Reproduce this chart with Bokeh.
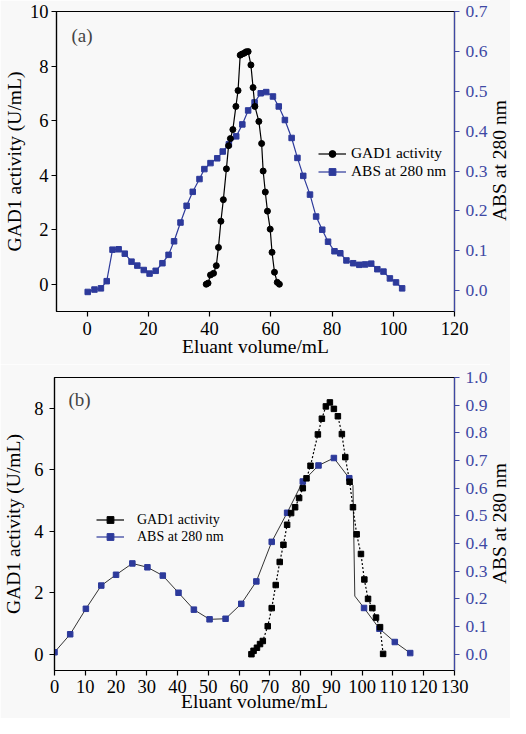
from bokeh.plotting import figure
from bokeh.layouts import column, row
from bokeh.models import (Range1d, LinearAxis, FixedTicker, Legend, LegendItem,
                          Label, PrintfTickFormatter, Div, Spacer)
from bokeh.embed import file_html
from bokeh.resources import INLINE

# ---------------- data: panel (a) ----------------
gad_a_x = [38.9, 39.5, 40.3, 41.3, 42.2, 42.9, 43.7, 44.5, 45.5, 46.2, 46.8, 47.6,
           48.6, 49.3, 50.0, 50.6, 51.3, 51.9, 52.6, 53.5, 54.2, 54.8, 56.1, 57.0,
           57.5, 58.2, 58.9, 59.8, 60.4, 61.2, 62.1, 62.8]
gad_a_y = [0.0, 0.04, 0.34, 0.40, 0.68, 1.35, 2.31, 3.10, 4.23, 5.08, 5.34, 5.67,
           6.52, 7.10, 8.40, 8.44, 8.47, 8.52, 8.53, 8.04, 7.21, 6.52, 5.97, 5.16,
           4.15, 3.38, 2.68, 2.02, 1.17, 0.44, 0.07, 0.0]
abs_a_x = [0.2, 2.4, 4.5, 6.4, 8.3, 10.3, 12.3, 14.5, 16.4, 18.5,
           20.4, 22.4, 24.6, 26.6, 28.4, 30.5, 32.5, 34.5, 36.7, 38.3,
           40.3, 42.5, 44.3, 46.3, 48.7, 50.7, 52.6, 54.7, 56.7, 58.5,
           60.7, 62.6, 64.6, 66.8, 68.7, 70.6, 72.8, 74.8, 76.8, 78.7,
           80.8, 82.7, 84.7, 86.9, 88.9, 90.8, 92.8, 94.8, 96.8, 98.9,
           100.9, 102.9]
abs_a_y = [-0.003, 0.003, 0.006, 0.024, 0.103, 0.104, 0.093, 0.073, 0.063, 0.052,
           0.043, 0.050, 0.069, 0.090, 0.124, 0.171, 0.213, 0.248, 0.280, 0.305,
           0.320, 0.332, 0.349, 0.367, 0.387, 0.417, 0.452, 0.472, 0.495, 0.498,
           0.487, 0.462, 0.428, 0.383, 0.333, 0.288, 0.241, 0.186, 0.153, 0.123,
           0.099, 0.094, 0.076, 0.069, 0.065, 0.066, 0.068, 0.054, 0.048, 0.031,
           0.021, 0.006]
x_ticks_a = [0, 20, 40, 60, 80, 100, 120]
left_ticks_a = [0, 2, 4, 6, 8, 10]
right_ticks_a = [0.0, 0.1, 0.2, 0.3, 0.4, 0.5, 0.6, 0.7]

# ---------------- data: panel (b) ----------------
gad_b_x = [64.0, 64.7, 65.8, 66.8, 67.7, 69.3, 70.6, 71.9, 73.2, 74.4, 75.6, 76.9,
           78.2, 79.5, 80.7, 81.9, 83.2, 85.6, 86.9, 88.2, 89.5, 90.8, 92.1, 93.4,
           94.5, 95.9, 97.0, 98.2, 99.6, 100.7, 101.9, 103.3, 104.5, 105.8, 106.8]
gad_b_y = [0.0, 0.11, 0.21, 0.33, 0.43, 0.91, 1.50, 2.25, 3.00, 3.56, 4.21, 4.59,
           4.78, 5.08, 5.40, 5.72, 6.13, 7.15, 7.66, 8.06, 8.19, 7.98, 7.74, 7.16,
           6.41, 5.61, 4.78, 3.90, 3.26, 2.43, 1.80, 1.50, 1.19, 0.88, 0.01]
abs_b_x = [0.0, 5.1, 10.2, 15.2, 20.0, 25.3, 30.2, 35.2, 40.3, 45.3, 50.4, 55.6,
           60.7, 65.6, 70.6, 75.6, 80.7, 85.8, 90.8, 95.8, 100.6, 105.6, 110.6, 115.6]
abs_b_y = [0.007, 0.072, 0.164, 0.248, 0.287, 0.328, 0.314, 0.284, 0.222, 0.161,
           0.126, 0.128, 0.182, 0.263, 0.406, 0.511, 0.624, 0.682, 0.709, 0.636,
           0.167, 0.092, 0.044, 0.004]
# the drawn curve has a sharp kink between 95.8 and 100.6 mL
abs_b_kink_x = [97.0, 97.6]
abs_b_kink_y = [0.61, 0.21]
x_ticks_b = [0, 10, 20, 30, 40, 50, 60, 70, 80, 90, 100, 110, 120, 130]
left_ticks_b = [0, 2, 4, 6, 8]
right_ticks_b = [0.0, 0.1, 0.2, 0.3, 0.4, 0.5, 0.6, 0.7, 0.8, 0.9, 1.0]

FONT = "Liberation Serif"
BLUE = "#2d3a9b"
AXBLUE = "#3e48a4"
BG = "#f8f8f8"
TICK_FS = "18.5px"
TITLE_FS = "19.5px"
FIG_W = 490
SIDE_W = 20


def style_axis(ax, color, ticks, fmt=None, lab_standoff=3, title_standoff=2,
               tick_fs=TICK_FS):
    ax.ticker = FixedTicker(ticks=ticks)
    if fmt:
        ax.formatter = PrintfTickFormatter(format=fmt)
    ax.axis_line_color = color
    ax.axis_line_width = 1.2
    ax.major_tick_line_color = color
    ax.major_tick_line_width = 1.2
    ax.minor_tick_line_color = None
    ax.major_tick_out = 5
    ax.major_tick_in = 0
    ax.major_label_text_color = color
    ax.major_label_text_font = FONT
    ax.major_label_text_font_size = tick_fs
    ax.major_label_standoff = lab_standoff
    ax.axis_label_text_color = "black"
    ax.axis_label_text_font = FONT
    ax.axis_label_text_font_size = TITLE_FS
    ax.axis_label_text_font_style = "normal"
    ax.axis_label_standoff = title_standoff


def make_fig(height, xr, yr, yr2, top, bottom, xticks, lticks, rticks,
             bot_std, left_std):
    p = figure(width=FIG_W, height=height, x_range=Range1d(*xr),
               y_range=Range1d(*yr), output_backend="svg", toolbar_location=None,
               min_border_left=53, min_border_right=36, min_border_top=top,
               min_border_bottom=bottom, background_fill_color=BG,
               border_fill_color=BG, outline_line_color="black",
               outline_line_width=1.2)
    p.grid.visible = False
    p.extra_y_ranges = {"abs": Range1d(*yr2)}
    style_axis(p.xaxis[0], "black", xticks, lab_standoff=bot_std[0],
               title_standoff=bot_std[1])
    p.xaxis[0].axis_label = "Eluant volume/mL"
    style_axis(p.yaxis[0], "black", lticks, lab_standoff=left_std[0],
               title_standoff=left_std[1])
    p.yaxis[0].axis_label = "GAD1 activity (U/mL)"
    rax = LinearAxis(y_range_name="abs")
    style_axis(rax, AXBLUE, rticks, fmt="%.1f", lab_standoff=6, tick_fs="17.5px")
    p.add_layout(rax, "right")
    return p


def side_title(total_h, top, frame_h):
    """Right-hand axis title, reading bottom-to-top, centred on the frame."""
    bg = {"background-color": BG}
    title = Div(text="ABS at 280 nm", width=SIDE_W, height=frame_h, margin=0,
                styles={"writing-mode": "vertical-rl",
                        "transform": "rotate(180deg)",
                        "text-align": "center",
                        "font-family": FONT, "font-size": TITLE_FS,
                        "line-height": "%dpx" % SIDE_W,
                        "color": "black", "white-space": "nowrap",
                        "background-color": BG})
    return column(Spacer(width=SIDE_W, height=top, margin=0, styles=bg),
                  title,
                  Spacer(width=SIDE_W, height=total_h - top - frame_h, margin=0,
                         styles=bg),
                  spacing=0)


def make_legend(p, entries, loc, size, standoff):
    items = []
    for label, color, marker, msize in entries:
        lr = p.line(x=[float("nan")], y=[float("nan")], line_color=color,
                    line_width=1.2)
        sr = p.scatter(x=[float("nan")], y=[float("nan")], marker=marker,
                       size=msize, fill_color=color, line_color=color)
        items.append(LegendItem(label=label, renderers=[lr, sr]))
    lg = Legend(items=items, location=loc, label_text_font=FONT,
                label_text_font_size=size, label_text_color="black",
                glyph_width=28, glyph_height=17, label_height=17,
                label_standoff=standoff, spacing=0, padding=0, margin=0,
                border_line_color=None, background_fill_alpha=0)
    p.add_layout(lg)


# ---------------- panel (a) ----------------
H1 = 364
p1 = make_fig(H1, (-10, 120), (-1, 10), (-0.052, 0.7), 11, 53,
              x_ticks_a, left_ticks_a, right_ticks_a, (5, -2), (3, 2))
p1.line(abs_a_x, abs_a_y, y_range_name="abs", line_color=BLUE, line_width=1.2)
p1.scatter(abs_a_x, abs_a_y, y_range_name="abs", marker="square", size=5.5,
           fill_color=BLUE, line_color=BLUE)
p1.line(gad_a_x, gad_a_y, line_color="black", line_width=1.2)
p1.scatter(gad_a_x, gad_a_y, marker="circle", size=6, fill_color="black",
           line_color="black")
make_legend(p1, [("GAD1 activity", "black", "circle", 6),
                 ("ABS at 280 nm", BLUE, "square", 5.5)], (262, 131), "15.4px", 5)
p1.add_layout(Label(x=-5.1, y=9.12, text="(a)", text_font=FONT,
                    text_font_size="19px", text_baseline="middle"))

# ---------------- panel (b) ----------------
H2 = 354
p2 = make_fig(H2, (0, 130), (-0.53, 9.0), (-0.059, 1.0), 13, 48,
              x_ticks_b, left_ticks_b, right_ticks_b, (4, -5), (6, 7))
curve_x = abs_b_x[:20] + abs_b_kink_x + abs_b_x[20:]
curve_y = abs_b_y[:20] + abs_b_kink_y + abs_b_y[20:]
p2.line(curve_x, curve_y, y_range_name="abs", line_color="#333333", line_width=1.0)
p2.line(gad_b_x, gad_b_y, line_color="black", line_width=1.2, line_dash="2 2")
p2.scatter(abs_b_x, abs_b_y, y_range_name="abs", marker="square", size=5.5,
           fill_color=BLUE, line_color=BLUE)
p2.scatter(gad_b_x, gad_b_y, marker="square", size=5.5, fill_color="black",
           line_color="black")
make_legend(p2, [("GAD1 activity", "black", "square", 5.5),
                 ("ABS at 280 nm", BLUE, "square", 5.5)], (42, 125), "14px", 13)
p2.add_layout(Label(x=4.55, y=8.3, text="(b)", text_font=FONT,
                    text_font_size="19px", text_baseline="middle"))

layout = column(row(p1, side_title(H1, 11, 300), spacing=0),
                row(p2, side_title(H2, 13, 293), spacing=0),
                spacing=0)
open("out.html", "w").write(file_html(layout, INLINE))
